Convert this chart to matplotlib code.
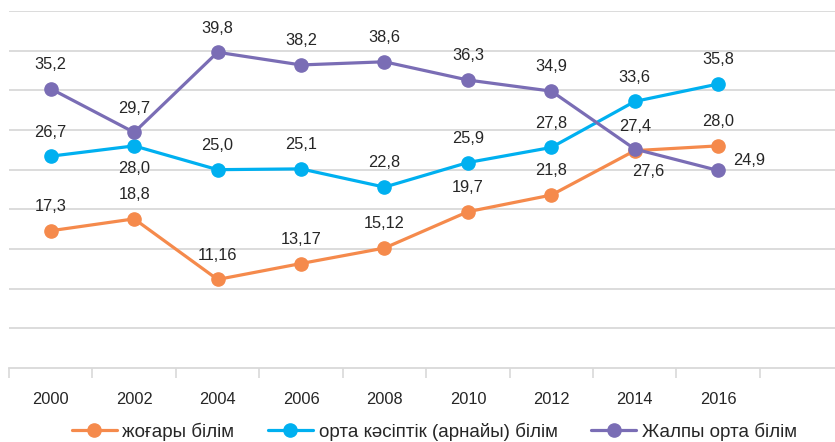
import numpy as np
import matplotlib
matplotlib.use("Agg")
import matplotlib.pyplot as plt

plt.rcParams["font.family"] = ["Liberation Sans", "DejaVu Sans"]

# ---------------------------------------------------------------------------
years = ["2000", "2002", "2004", "2006", "2008", "2010", "2012", "2014", "2016"]
higher = [17.3, 18.8, 11.16, 13.17, 15.12, 19.7, 21.8, 27.4, 28.0]
vocational = [26.7, 28.0, 25.0, 25.1, 22.8, 25.9, 27.8, 33.6, 35.8]
general = [35.2, 29.7, 39.8, 38.2, 38.6, 36.3, 34.9, 27.6, 24.9]

higher_lbl = ["17,3", "18,8", "11,16", "13,17", "15,12", "19,7", "21,8", "27,4", "28,0"]
vocational_lbl = ["26,7", "28,0", "25,0", "25,1", "22,8", "25,9", "27,8", "33,6", "35,8"]
general_lbl = ["35,2", "29,7", "39,8", "38,2", "38,6", "36,3", "34,9", "27,6", "24,9"]

names = ["жоғары білім", "орта кәсіптік (арнайы) білім", "Жалпы орта білім"]

C_ORANGE = "#F58A4C"
C_CYAN = "#00B0F0"
C_PURPLE = "#7A6DB5"
GRID = "#D9D9D9"
TXT = "#262626"
FS = 11.8

# ---------------------------------------------------------------------------
fig = plt.figure(figsize=(8.35, 4.42), dpi=100)
ax = fig.add_axes([0.0108, 0.1674, 0.9892, 0.8077])

x = np.arange(len(years))
series = [
    (higher, higher_lbl, C_ORANGE, names[0]),
    (vocational, vocational_lbl, C_CYAN, names[1]),
    (general, general_lbl, C_PURPLE, names[2]),
]
for vals, lbls, col, name in series:
    ax.plot(x, vals, "-o", color=col, lw=2.3, ms=9.5, label=name,
            solid_capstyle="round")

# data labels: default above, a few placed below / right
offsets = {
    (1, 1): (0, -16),   # vocational 2002 below
    (2, 7): (10, -16),  # general 2014 below
    (2, 8): (22, 7),    # general 2016 right
}
for si, (vals, lbls, col, name) in enumerate(series):
    for i, (v, t) in enumerate(zip(vals, lbls)):
        if (si, i) in offsets:
            dx, dy = offsets[(si, i)]
            ax.annotate(t, (i, v), xytext=(dx, dy), textcoords="offset points",
                        ha="center", va="center", fontsize=FS, color=TXT)
        else:
            ax.annotate(t, (i, v), xytext=(0, 12), textcoords="offset points",
                        ha="center", va="bottom", fontsize=FS, color=TXT)

ax.set_ylim(0, 45)
ax.set_xlim(-0.5, 9.4)
ax.set_yticks(np.arange(5, 46, 5))
ax.yaxis.grid(True, color=GRID, lw=1.3)
ax.set_axisbelow(True)
ax.tick_params(axis="y", left=False, labelleft=False)

ax.set_xticks(x)
ax.set_xticklabels(years, fontsize=FS, color=TXT)
ax.tick_params(axis="x", length=0, pad=17)
ax.set_xticks(np.arange(-0.5, 9.5, 1), minor=True)
ax.tick_params(axis="x", which="minor", length=7, width=1.2, color=GRID)

for s in ["top", "right", "left"]:
    ax.spines[s].set_visible(False)
ax.spines["bottom"].set_color(GRID)
ax.spines["bottom"].set_linewidth(1.3)

fig.legend(loc="center", bbox_to_anchor=(0.52, 0.024), ncol=3,
           frameon=False, fontsize=13.5, handlelength=2.4, columnspacing=1.8,
           handletextpad=0.3, labelcolor=TXT)

fig.savefig("out.png", dpi=100)
